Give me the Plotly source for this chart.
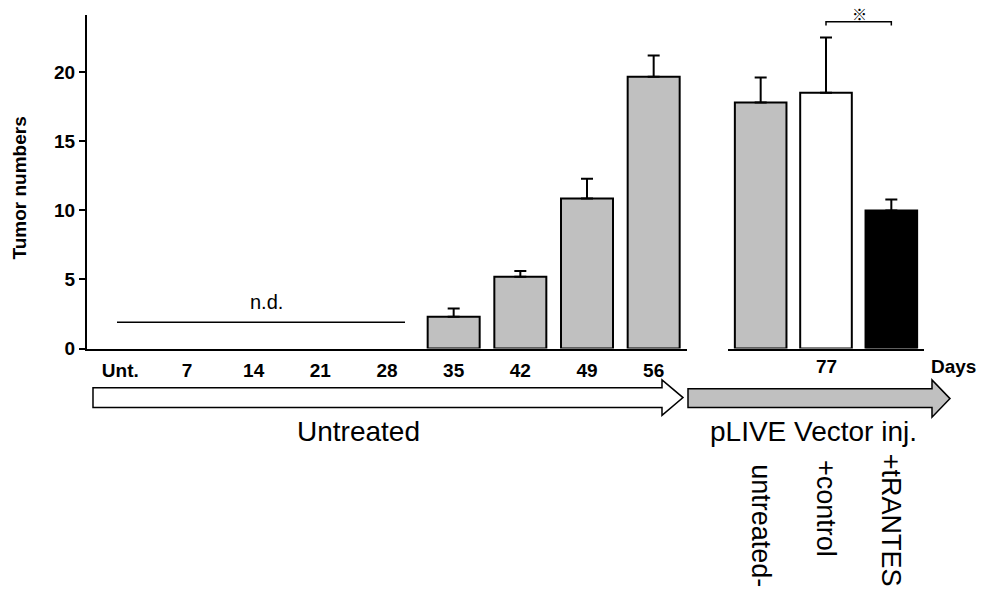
import plotly.graph_objects as go

# ---- data ----
left_categories = ["Unt.", "7", "14", "21", "28", "35", "42", "49", "56"]
left_values = [None, None, None, None, None, 2.29, 5.2, 10.85, 19.65]
left_errors = [None, None, None, None, None, 0.6, 0.4, 1.42, 1.54]

right_categories = ["untreated-", "+control", "+tRANTES"]
right_values = [17.8, 18.5, 9.99]
right_errors = [1.8, 4.0, 0.78]
right_colors = ["#c0c0c0", "#ffffff", "#000000"]

y_ticks = [0, 5, 10, 15, 20]
nd_level = 1.9

W, H = 982, 604
FONT = "Arial, Liberation Sans, sans-serif"


def px(x):
    return x / W


def py(y):
    return 1 - y / H


fig = go.Figure()

fig.add_trace(go.Bar(
    x=left_categories, y=left_values,
    marker=dict(color="#c0c0c0", line=dict(color="black", width=2)),
    width=0.78,
    error_y=dict(type="data", array=left_errors, symmetric=False,
                 arrayminus=[0] * len(left_errors),
                 color="black", thickness=2, width=6),
    xaxis="x", yaxis="y", showlegend=False, hoverinfo="skip",
))

fig.add_trace(go.Bar(
    x=right_categories, y=right_values,
    marker=dict(color=right_colors, line=dict(color="black", width=2)),
    width=0.79,
    error_y=dict(type="data", array=right_errors, symmetric=False,
                 arrayminus=[0] * len(right_errors),
                 color="black", thickness=2, width=6),
    xaxis="x2", yaxis="y2", showlegend=False, hoverinfo="skip",
))

y_bottom, y_top = 355, 15
y_range = [0, (y_bottom - y_top) / 14.085]
ydom = [py(y_bottom), py(y_top)]

fig.update_layout(
    width=W, height=H,
    margin=dict(l=0, r=0, t=0, b=0),
    paper_bgcolor="white", plot_bgcolor="white",
    font=dict(family=FONT, color="black"),
    bargap=0.2,
    xaxis=dict(domain=[px(87), px(687)], anchor="y", type="category",
               range=[-0.5, 8.5], showline=True, linecolor="black", linewidth=2,
               ticks="", showgrid=False, zeroline=False,
               tickfont=dict(size=19, family=FONT, weight="bold"),
               ticklabelstandoff=4),
    yaxis=dict(domain=ydom, anchor="x", range=y_range, showline=True,
               linecolor="black", linewidth=2, ticks="outside", ticklen=6,
               tickwidth=2, tickcolor="black", tickvals=y_ticks,
               showgrid=False, zeroline=False,
               tickfont=dict(size=19, family=FONT, weight="bold")),
    xaxis2=dict(domain=[px(728), px(924)], anchor="y2", type="category",
                range=[-0.5, 2.5], showline=True, linecolor="black", linewidth=2,
                ticks="", showticklabels=False, showgrid=False, zeroline=False),
    yaxis2=dict(domain=ydom, anchor="x2", range=y_range, visible=False),
)

shapes = []
# n.d. line
shapes.append(dict(type="line", xref="x", yref="y", x0=-0.05, x1=4.27,
                   y0=nd_level, y1=nd_level, line=dict(color="black", width=1.5)))
# significance bracket
b_y, b_tick = 23.64, 23.36
shapes.append(dict(type="path", xref="x2", yref="y2",
                   path=f"M 1 {b_tick} L 1 {b_y} L 2 {b_y} L 2 {b_tick}",
                   line=dict(color="black", width=1.5)))


def arrow(x0, xb, xt, yb0, yb1, yh0, yh1):
    ym = (yh0 + yh1) / 2
    pts = [(x0, yb0), (xb, yb0), (xb, yh0), (xt, ym), (xb, yh1), (xb, yb1), (x0, yb1)]
    d = "M " + " L ".join(f"{px(a):.5f} {py(b):.5f}" for a, b in pts) + " Z"
    return d


shapes.append(dict(type="path", xref="paper", yref="paper",
                   path=arrow(93, 662, 683, 395, 415, 387, 423),
                   fillcolor="white", line=dict(color="black", width=1.5)))
shapes.append(dict(type="path", xref="paper", yref="paper",
                   path=arrow(688, 932, 950, 396, 415, 387, 425),
                   fillcolor="#c0c0c0", line=dict(color="black", width=1.5)))
fig.update_layout(shapes=shapes)


def pann(text, x, y, size, bold=False, family=FONT, angle=0):
    f = dict(size=size, family=family)
    if bold:
        f["weight"] = "bold"
    return dict(text=text, x=px(x), y=py(y), xref="paper", yref="paper",
                xanchor="center", yanchor="middle", textangle=angle,
                showarrow=False, font=f)


ann = []
ann.append(pann("Tumor numbers", 20, 192, 19, bold=True, angle=-90))
ann.append(pann("n.d.", 266, 308, 20))
ann.append(pann("※", 859, 13.5, 15, bold=True, family="Noto Sans CJK JP"))
ann.append(pann("77", 826, 373, 19, bold=True))
ann.append(pann("Days", 953, 373, 19, bold=True))
ann.append(pann("Untreated", 358, 439, 28))
ann.append(pann("pLIVE Vector inj.", 813, 440, 28))
label_tops = [471, 466, 460]
for i, (lab, top) in enumerate(zip(right_categories, label_tops)):
    ann.append(dict(text=lab, x=i, y=py(top), xref="x2", yref="paper",
                    xanchor="center", yanchor="top", textangle=90, showarrow=False,
                    font=dict(size=27, family=FONT)))
fig.update_layout(annotations=ann)

fig.write_html(
    "out.html",
    config={"displayModeBar": False},
    post_script=("document.documentElement.style.margin='0';"
                 "document.documentElement.style.overflow='hidden';"
                 "document.body.style.margin='0';"
                 "document.body.style.overflow='hidden';"),
)
